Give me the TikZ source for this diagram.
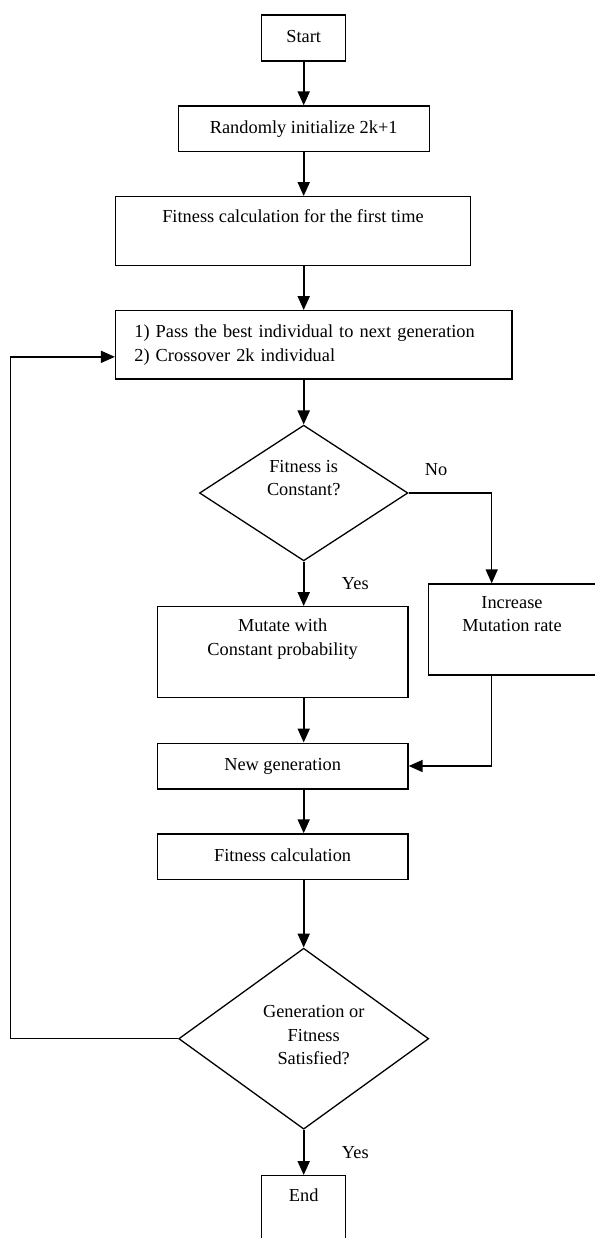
\documentclass[tikz,border=0pt]{standalone}
\usepackage{fontspec}
\setmainfont{Liberation Serif}
\usetikzlibrary{arrows.meta, positioning, shapes.geometric}

\begin{document}
\begin{tikzpicture}
    [font=\fontsize{18.35}{23.5}\selectfont,
    terminal/.style={rectangle, draw, line width=1.3pt, minimum width=84pt, minimum height=46pt,
    align=center, inner sep=0pt, execute at begin node=\strut, execute at end node=\strut},
    activity/.style={rectangle, draw, line width=1.3pt, align=center, inner sep=0pt,
    execute at begin node=\strut, execute at end node=\strut},
    decision/.style={diamond, draw, line width=1.3pt, shape aspect=1.5, align=center, inner sep=0pt,
    execute at begin node=\strut, execute at end node=\strut},
    answer/.style={inner sep=0pt},
    arrow/.style={line width=2pt, -{Triangle[length=14pt, width=12pt]}},
    side/.style={line width=1.5pt, -{Triangle[length=14pt, width=12pt]}}]
    \useasboundingbox (0,0) rectangle (594pt,-1238pt);
    \node [terminal] (start) at (303.7pt,-38pt) {Start};
    \node [activity, below of=start, node distance=90.85pt, minimum width=251pt,
    minimum height=45.7pt] (init) {Randomly initialize 2k+1};
    \node [activity, below of=init, node distance=102.15pt, xshift=-10.7pt, minimum width=354.6pt,
    minimum height=68.6pt] (first_fitness) {Fitness calculation for the first time\\};
    \node [activity, below of=first_fitness, node distance=113.85pt, xshift=20.8pt,
    text width=358.9pt, align=left, inner xsep=18.8pt, minimum height=68.3pt] (pass)
    {1) Pass the best individual to next generation\\2) Crossover 2k individual};
    \node [decision, below of=pass, node distance=148.15pt, xshift=-10.1pt, minimum width=208.4pt,
    minimum height=135.7pt] (constant) {Fitness is\\Constant?\\};
    \node [activity, below of=constant, node distance=159.2pt, xshift=-21.1pt, minimum width=250.8pt,
    minimum height=91pt] (mutate) {Mutate with\\Constant probability\\};
    \node [activity, right of=mutate, node distance=229.4pt, yshift=22.7pt, minimum width=167.2pt,
    minimum height=91pt] (increase) {Increase\\Mutation rate\\};
    \node [activity, below of=mutate, node distance=113.8pt, minimum width=250.8pt,
    minimum height=45.7pt] (new_gen) {New generation};
    \node [activity, below of=new_gen, node distance=90.65pt, minimum width=250.8pt,
    minimum height=45.5pt] (fitness) {Fitness calculation};
    \node [decision, below of=fitness, node distance=182.05pt, xshift=21.1pt, minimum width=250pt,
    minimum height=181pt] (satisfied)
    {\hspace*{20pt}Generation or\\\hspace*{20pt}Fitness\\\hspace*{20pt}Satisfied?};
    \node [terminal, below of=satisfied, node distance=171.3pt, minimum height=68.6pt] (end) {End\\};
    \node [answer] (no) at ([xshift=27.6pt, yshift=23.7pt]constant.east) {No};
    \node [answer] (yes_mutate) at ([xshift=51.6pt, yshift=-22pt]constant.south) {Yes};
    \node [answer] (yes_end) at ([xshift=51.6pt, yshift=-22.4pt]satisfied.south) {Yes};

    \draw [arrow] (start) -- (init);
    \draw [arrow] (init) -- (first_fitness.north -| init);
    \draw [arrow] (first_fitness.south -| init) -- (pass.north -| init);
    \draw [arrow] (pass.south -| init) -- (constant);
    \draw [arrow] (constant) -- (mutate.north -| constant);
    \draw [side] (constant.east) -| ([xshift=-20.3pt]increase.north);
    \draw [arrow] (mutate.south -| constant) -- (new_gen.north -| constant);
    \draw [side] ([xshift=-20.3pt]increase.south) |- (new_gen.east);
    \draw [arrow] (new_gen.south -| constant) -- (fitness.north -| constant);
    \draw [arrow] (fitness.south -| constant) -- (satisfied);
    \draw [arrow] (satisfied) -- (end);
    \draw [side] (satisfied.west) -- ++(-167.4pt,0) |- ([yshift=-12pt]pass.west);
  \end{tikzpicture}
\end{document}
